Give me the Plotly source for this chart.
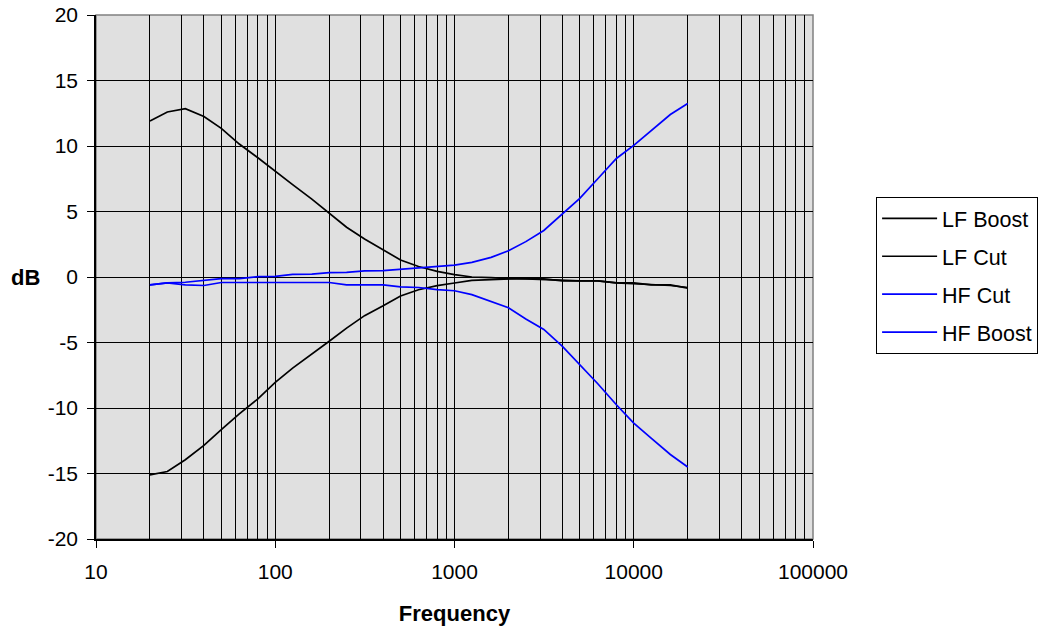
import numpy as np
import plotly.graph_objects as go

freq = [20, 25, 31.5, 40, 50, 63, 80, 100, 125, 160, 200, 250, 315, 400, 500,
        630, 800, 1000, 1250, 1600, 2000, 2500, 3150, 4000, 5000, 6300, 8000,
        10000, 12500, 16000, 20000]

lf_boost = [11.9, 12.6, 12.85, 12.25, 11.35, 10.15, 9.1, 8.05, 7.05, 5.95, 4.9,
            3.8, 2.9, 2.1, 1.3, 0.8, 0.43, 0.18, 0.0, -0.05, -0.13, -0.15, -0.2,
            -0.3, -0.3, -0.3, -0.45, -0.45, -0.6, -0.6, -0.85]

lf_cut = [-15.1, -14.85, -13.95, -12.85, -11.65, -10.45, -9.3, -8.05, -6.95,
          -5.9, -4.9, -3.9, -2.95, -2.2, -1.45, -0.97, -0.66, -0.46, -0.26, -0.2,
          -0.13, -0.1, -0.15, -0.3, -0.3, -0.3, -0.45, -0.5, -0.6, -0.65, -0.8]

hf_cut = [-0.6, -0.45, -0.6, -0.65, -0.42, -0.42, -0.42, -0.42, -0.42, -0.42,
          -0.42, -0.6, -0.6, -0.6, -0.76, -0.8, -0.97, -1.05, -1.35, -1.85,
          -2.35, -3.2, -4.0, -5.3, -6.7, -8.15, -9.75, -11.15, -12.3, -13.55, -14.5]

hf_boost = [-0.6, -0.45, -0.4, -0.25, -0.13, -0.13, 0.03, 0.05, 0.2, 0.22, 0.33,
            0.35, 0.46, 0.48, 0.58, 0.65, 0.8, 0.9, 1.12, 1.5, 2.0, 2.7, 3.55,
            4.85, 6.0, 7.5, 9.05, 10.05, 11.2, 12.4, 13.25]

series_names = ["LF Boost", "LF Cut", "HF Cut", "HF Boost"]
series_values = [lf_boost, lf_cut, hf_cut, hf_boost]
series_colors = ["#000000", "#000000", "#0000FF", "#0000FF"]

x_tickvals = [10, 100, 1000, 10000, 100000]
x_ticktext = ["10", "100", "1000", "10000", "100000"]
y_tickvals = [-20, -15, -10, -5, 0, 5, 10, 15, 20]
y_ticktext = ["-20", "-15", "-10", "-5", "0", "5", "10", "15", "20"]

minor_vals = [m * 10 ** e for e in range(1, 5) for m in range(2, 10)]

FONT = "Liberation Sans, Arial, sans-serif"

fig = go.Figure()
for name, vals, col in zip(series_names, series_values, series_colors):
    fig.add_trace(go.Scatter(
        x=freq, y=vals, mode="lines", name=name, legendgroup=name,
        line=dict(color=col, width=1.7),
    ))

fig.update_layout(
    width=1042, height=631,
    margin=dict(l=96, r=229, t=15, b=92, autoexpand=False),
    paper_bgcolor="white",
    plot_bgcolor="#E0E0E0",
    font=dict(family=FONT, size=21, color="black"),
    showlegend=True,
    legend=dict(
        x=1.088, y=0.653, xanchor="left", yanchor="top",
        bgcolor="white", bordercolor="black", borderwidth=1,
        font=dict(size=21.5), traceorder="grouped", tracegroupgap=7,
        itemwidth=55,
    ),
    shapes=[dict(type="rect", xref="paper", yref="paper", x0=0, x1=1, y0=0, y1=1,
                 line=dict(color="#808080", width=1.5), layer="below")],
    annotations=[dict(text="<b>dB</b>", xref="paper", yref="paper",
                      x=-0.099, y=0.5, showarrow=False, xanchor="center",
                      yanchor="middle", font=dict(size=22))],
)

fig.update_xaxes(
    type="log", range=[1, 5], automargin=False,
    tickvals=x_tickvals, ticktext=x_ticktext,
    ticks="outside", ticklen=7, tickcolor="black", tickwidth=1,
    ticklabelstandoff=6,
    showgrid=True, gridcolor="black", gridwidth=1,
    minor=dict(tickvals=minor_vals, showgrid=True, gridcolor="black",
               gridwidth=1, ticks=""),
    showline=True, linecolor="black", linewidth=1.5,
    title=dict(text="<b>Frequency</b>", standoff=24, font=dict(size=22)),
    zeroline=False,
)
fig.update_yaxes(
    range=[-20, 20], automargin=False,
    tickvals=y_tickvals, ticktext=y_ticktext,
    ticks="outside", ticklen=7, tickcolor="black", tickwidth=1,
    ticklabelstandoff=5,
    showgrid=True, gridcolor="black", gridwidth=1,
    showline=True, linecolor="black", linewidth=1.5,
    zeroline=False,
)

# remove the page's default 8px body margin so the figure fills the window
fig.write_html(
    "out.html",
    config={"displayModeBar": False},
    post_script="document.body.style.margin='0';document.body.style.overflow='hidden';",
)
